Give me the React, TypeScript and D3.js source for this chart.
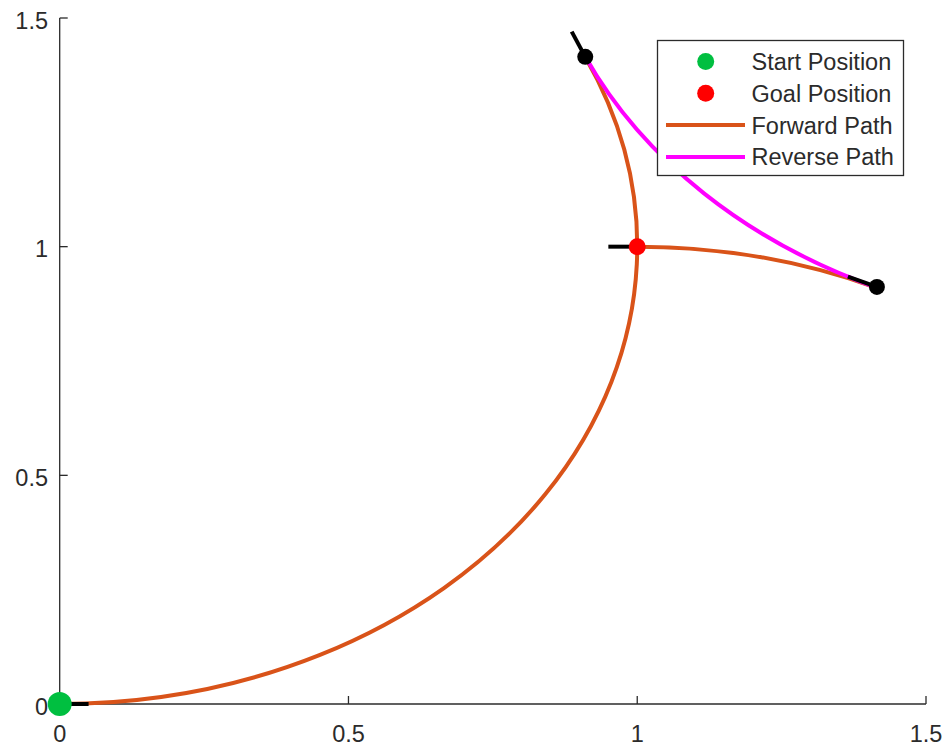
import React from "react";
import * as d3 from "d3";

// ---- data ----
const xTicks = [0, 0.5, 1, 1.5];
const yTicks = [0, 0.5, 1, 1.5];
const xTickLabels = ["0", "0.5", "1", "1.5"];
const yTickLabels = ["0", "0.5", "1", "1.5"];

// arcs: center x, center y, radius, start angle (deg), end angle (deg), anticlockwise
const forwardArcs = [
  { cx: 0, cy: 1, r: 1, a0: -90, a1: 24.5, ccw: false },
  { cx: 1, cy: 0, r: 1, a0: 90, a1: 65.5, ccw: true },
];
const reverseArcs = [
  { cx: 1.825, cy: 1.825, r: 1.0025, a0: 204.13, a1: 245.87, ccw: false },
];

// poses: x, y, heading line angle (deg), heading line length
const poses = [
  { x: 0, y: 0, angle: 0, len: 0.05 },
  { x: 1, y: 1, angle: 180, len: 0.05 },
  { x: 0.91, y: 1.415, angle: 113, len: 0.06 },
  { x: 1.415, y: 0.912, angle: 156, len: 0.055 },
];
const startPoint = [{ x: 0, y: 0 }];
const goalPoint = [{ x: 1, y: 1 }];
const otherPoints = [
  { x: 0.91, y: 1.415 },
  { x: 1.415, y: 0.912 },
];

const legendLabels = ["Start Position", "Goal Position", "Forward Path", "Reverse Path"];

const W = 949;
const H = 746;
const FONT = "'Liberation Sans', Arial, Helvetica, sans-serif";
const AX = "#2b2b2b";
const ORANGE = "#D95319";
const MAGENTA = "#FF00FF";
const GREEN = "#00BF40";
const RED = "#FF0000";

export default function App() {
  const x = d3.scaleLinear().domain([0, 1.5]).range([59.7, 926]);
  const y = d3.scaleLinear().domain([0, 1.5]).range([704, 18]);
  const kx = x(1) - x(0);
  const ky = y(0) - y(1);
  const rad = (d: number) => (d * Math.PI) / 180;

  const arcPath = (a: { cx: number; cy: number; r: number; a0: number; a1: number; ccw: boolean }) => {
    const p = d3.path();
    p.arc(a.cx, a.cy, a.r, rad(a.a0), rad(a.a1), a.ccw);
    return p.toString();
  };

  const tickLen = 8;
  const legendX = 657.5;
  const legendY = 40.5;
  const rowY = (i: number) => 61.5 + i * 31.8;

  return (
    <svg
      width={W}
      height={H}
      style={{ position: "absolute", left: 0, top: 0, background: "#fff" }}
      fontFamily={FONT}
    >
      <rect x={0} y={0} width={W} height={H} fill="#fff" />

      {/* axes */}
      <line x1={x(0)} y1={y(0)} x2={x(1.5)} y2={y(0)} stroke={AX} strokeWidth={1.3} />
      <line x1={x(0)} y1={y(0)} x2={x(0)} y2={y(1.5)} stroke={AX} strokeWidth={1.3} />
      {xTicks.map((t, i) => (
        <g key={"xt" + i}>
          <line x1={x(t)} x2={x(t)} y1={y(0)} y2={y(0) - tickLen} stroke={AX} strokeWidth={1.3} />
          <text x={x(t)} y={y(0) + 37.5} textAnchor="middle" fontSize={23.5} fill={AX}>
            {xTickLabels[i]}
          </text>
        </g>
      ))}
      {yTicks.map((t, i) => (
        <g key={"yt" + i}>
          <line x1={x(0)} x2={x(0) + tickLen} y1={y(t)} y2={y(t)} stroke={AX} strokeWidth={1.3} />
          <text x={48} y={y(t) + 10.5} textAnchor="end" fontSize={23.5} fill={AX}>
            {yTickLabels[i]}
          </text>
        </g>
      ))}

      {/* paths in data space */}
      <g transform={`translate(${x(0)},${y(0)}) scale(${kx},${-ky})`}>
        {forwardArcs.map((a, i) => (
          <path
            key={"f" + i}
            d={arcPath(a)}
            fill="none"
            stroke={ORANGE}
            strokeWidth={4}
            vectorEffect="non-scaling-stroke"
          />
        ))}
        {reverseArcs.map((a, i) => (
          <path
            key={"r" + i}
            d={arcPath(a)}
            fill="none"
            stroke={MAGENTA}
            strokeWidth={4}
            vectorEffect="non-scaling-stroke"
          />
        ))}
      </g>

      {/* heading lines */}
      {poses.map((p, i) => (
        <line
          key={"h" + i}
          x1={x(p.x)}
          y1={y(p.y)}
          x2={x(p.x + p.len * Math.cos(rad(p.angle)))}
          y2={y(p.y + p.len * Math.sin(rad(p.angle)))}
          stroke="#000"
          strokeWidth={4}
        />
      ))}

      {/* points */}
      {otherPoints.map((p, i) => (
        <circle key={"o" + i} cx={x(p.x)} cy={y(p.y)} r={8} fill="#000" />
      ))}
      {goalPoint.map((p, i) => (
        <circle key={"g" + i} cx={x(p.x)} cy={y(p.y)} r={8.5} fill={RED} />
      ))}
      {startPoint.map((p, i) => (
        <circle key={"s" + i} cx={x(p.x)} cy={y(p.y)} r={12} fill={GREEN} />
      ))}

      {/* legend */}
      <rect x={legendX} y={legendY} width={246} height={135} fill="#fff" stroke={AX} strokeWidth={1.3} />
      <circle cx={705.7} cy={rowY(0)} r={8.5} fill={GREEN} />
      <circle cx={705.7} cy={rowY(1)} r={8.5} fill={RED} />
      <line x1={666} x2={745} y1={rowY(2)} y2={rowY(2)} stroke={ORANGE} strokeWidth={4} />
      <line x1={666} x2={745} y1={rowY(3)} y2={rowY(3)} stroke={MAGENTA} strokeWidth={4} />
      {legendLabels.map((l, i) => (
        <text key={"l" + i} x={751.5} y={rowY(i) + 8.5} fontSize={23.5} fill={AX}>
          {l}
        </text>
      ))}
    </svg>
  );
}
